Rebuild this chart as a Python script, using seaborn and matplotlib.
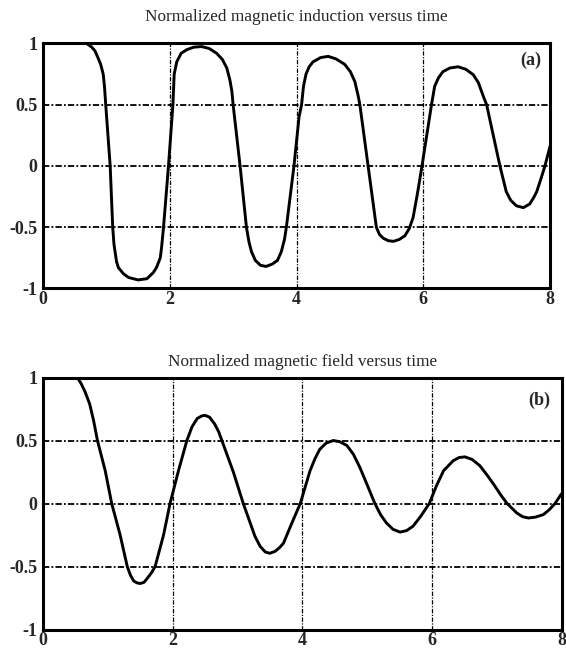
import matplotlib
matplotlib.use("Agg")
import matplotlib.pyplot as plt
import seaborn as sns
import pandas as pd

# ---- data ----
t_induction = [0.00, 0.60, 0.69, 0.77, 0.82, 0.87, 0.91, 0.95, 0.97, 0.99, 1.06, 1.10, 1.12, 1.16,
               1.19, 1.27, 1.35, 1.50, 1.64, 1.74, 1.79, 1.85, 1.87, 1.90,
               1.98, 2.05, 2.07, 2.11, 2.18, 2.27, 2.38, 2.50, 2.62, 2.74, 2.83, 2.90, 2.95, 2.98, 3.00,
               3.11, 3.21, 3.25, 3.29, 3.35, 3.43, 3.52, 3.62, 3.70, 3.76, 3.81, 3.84,
               3.96, 4.04, 4.08, 4.11, 4.15, 4.20, 4.26, 4.38, 4.50, 4.62, 4.76, 4.85, 4.92, 4.97, 5.00,
               5.13, 5.26, 5.31, 5.37, 5.45, 5.53, 5.62, 5.71, 5.78, 5.84, 5.91,
               5.98, 6.13, 6.18, 6.24, 6.31, 6.42, 6.55, 6.67, 6.79, 6.87, 6.94, 7.00,
               7.21, 7.31, 7.38, 7.47, 7.58, 7.68, 7.74, 7.79, 7.86, 7.92, 8.00]
b_induction = [1.00, 1.00, 1.00, 0.97, 0.94, 0.88, 0.83, 0.75, 0.65, 0.50, 0.00, -0.50, -0.64, -0.78,
               -0.83, -0.88, -0.91, -0.93, -0.92, -0.87, -0.83, -0.75, -0.67, -0.51,
               0.00, 0.50, 0.75, 0.85, 0.92, 0.95, 0.97, 0.975, 0.96, 0.92, 0.87, 0.80, 0.70, 0.61, 0.50,
               0.00, -0.50, -0.62, -0.70, -0.77, -0.81, -0.82, -0.80, -0.77, -0.70, -0.60, -0.50,
               0.00, 0.40, 0.50, 0.65, 0.75, 0.81, 0.85, 0.885, 0.895, 0.875, 0.83, 0.77, 0.69, 0.58, 0.50,
               0.00, -0.50, -0.56, -0.59, -0.61, -0.615, -0.60, -0.57, -0.51, -0.42, -0.22,
               0.00, 0.50, 0.65, 0.72, 0.77, 0.80, 0.81, 0.79, 0.745, 0.68, 0.58, 0.50,
               0.00, -0.21, -0.28, -0.325, -0.34, -0.31, -0.26, -0.21, -0.10, 0.00, 0.16]

t_field = [0.53, 0.59, 0.65, 0.72, 0.78, 0.84, 0.96, 1.06, 1.19, 1.30, 1.35, 1.40, 1.45, 1.50,
           1.56, 1.63, 1.68, 1.73, 1.86, 1.96, 2.09, 2.22, 2.30, 2.38, 2.45, 2.50, 2.57, 2.65,
           2.71, 2.76, 2.94, 3.09, 3.27, 3.35, 3.43, 3.50, 3.58, 3.65, 3.71, 3.84, 3.97, 4.12,
           4.20, 4.27, 4.37, 4.48, 4.58, 4.69, 4.79, 4.89, 5.00, 5.12, 5.21, 5.30, 5.40, 5.51,
           5.61, 5.71, 5.83, 5.96, 6.07, 6.18, 6.33, 6.42, 6.51, 6.62, 6.74, 6.86, 6.97, 7.06,
           7.16, 7.31, 7.40, 7.49, 7.60, 7.72, 7.81, 7.90, 8.00]
h_field = [1.00, 0.95, 0.885, 0.79, 0.66, 0.50, 0.26, 0.00, -0.25, -0.50, -0.57, -0.615, -0.63, -0.635,
           -0.625, -0.58, -0.545, -0.50, -0.25, 0.00, 0.26, 0.50, 0.61, 0.675, 0.695, 0.70, 0.685, 0.63,
           0.57, 0.50, 0.245, 0.00, -0.26, -0.34, -0.385, -0.395, -0.38, -0.35, -0.315, -0.155, 0.00, 0.26,
           0.36, 0.43, 0.48, 0.50, 0.49, 0.46, 0.39, 0.285, 0.15, 0.00, -0.09, -0.155, -0.205, -0.227,
           -0.215, -0.18, -0.10, 0.00, 0.14, 0.26, 0.34, 0.365, 0.37, 0.35, 0.30, 0.22, 0.14, 0.07,
           0.00, -0.075, -0.105, -0.115, -0.108, -0.088, -0.05, 0.00, 0.077]

x_ticks = [0, 2, 4, 6, 8]
x_tick_labels = ["0", "2", "4", "6", "8"]
y_ticks = [-1, -0.5, 0, 0.5, 1]
y_tick_labels = ["-1", "-0.5", "0", "0.5", "1"]

titles = ["Normalized magnetic induction versus time", "Normalized magnetic field versus time"]
panel_tags = ["(a)", "(b)"]

df_a = pd.DataFrame({"t": t_induction, "v": b_induction})
df_b = pd.DataFrame({"t": t_field, "v": h_field})

sns.set_style("white")
plt.rcParams["font.family"] = ["Liberation Serif", "DejaVu Serif"]
plt.rcParams["axes.unicode_minus"] = False
plt.rcParams["lines.solid_joinstyle"] = "round"

fig = plt.figure(figsize=(5.66, 6.48), dpi=100)
W, H = 566, 648
def add_axes(l, r, t, b):
    return fig.add_axes([l / W, 1 - b / H, (r - l) / W, (b - t) / H])

ax_a = add_axes(43, 550, 43.5, 288.5)
ax_b = add_axes(43, 561.5, 377.5, 629.5)

grid_ls = (0, (3.5, 1.2, 1.0, 1.2))
for ax, df, title, tag, tagpos, tpad in [
    (ax_a, df_a, titles[0], panel_tags[0], (0.962, 0.93), 16),
    (ax_b, df_b, titles[1], panel_tags[1], (0.958, 0.91), 8),
]:
    for gx in [2, 4, 6]:
        ax.axvline(gx, color="black", lw=0.9, ls=grid_ls, zorder=1)
    for gy in [-0.5, 0, 0.5]:
        ax.axhline(gy, color="black", lw=1.3, ls=grid_ls, zorder=1)
    sns.lineplot(data=df, x="t", y="v", ax=ax, color="black", lw=2.1,
                 estimator=None, sort=False, zorder=3)
    ax.set_xlim(0, 8)
    ax.set_ylim(-1, 1)
    ax.set_xticks(x_ticks)
    ax.set_xticklabels(x_tick_labels)
    ax.set_yticks(y_ticks)
    ax.set_yticklabels(y_tick_labels)
    ax.tick_params(axis="y", length=0, pad=4, labelsize=13)
    ax.tick_params(axis="x", length=0, pad=2, labelsize=13)
    for lab in ax.get_xticklabels() + ax.get_yticklabels():
        lab.set_fontweight("bold")
    ax.set_xlabel("")
    ax.set_ylabel("")
    ax.set_title(title, fontsize=12.4, pad=tpad)
    for sp in ax.spines.values():
        sp.set_visible(True)
        sp.set_color("black")
        sp.set_linewidth(2.2)
    ax.text(tagpos[0], tagpos[1], tag, transform=ax.transAxes, ha="center", va="center",
            fontsize=13, fontweight="bold")

fig.savefig("out.png", dpi=100)
